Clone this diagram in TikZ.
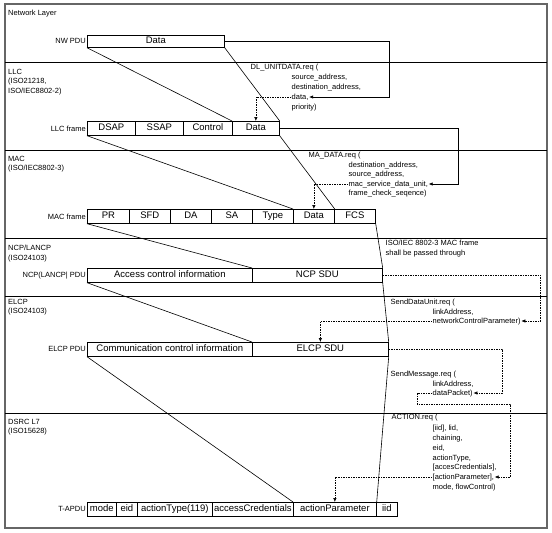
\documentclass[tikz,border=0pt]{standalone}
\usepackage{fontspec}
\setmainfont{Liberation Sans}
\usetikzlibrary{positioning,arrows.meta}

\begin{document}
\begin{tikzpicture}[
  x=1pt, y=-1pt,
  fld/.style={draw, line width=0.7pt, anchor=north west, minimum height=14pt, inner sep=0pt,
    text height=7pt, text depth=2pt, font=\fontsize{9.5}{11}\selectfont},
  rowlbl/.style={font=\fontsize{7.5}{9}\selectfont, inner sep=1pt},
  laylbl/.style={font=\fontsize{7.5}{9.5}\selectfont, align=left, anchor=north west, inner sep=0pt},
  primlbl/.style={font=\fontsize{7.5}{9}\selectfont, anchor=west, inner sep=0.5pt,
    text height=5.5pt, text depth=1.5pt},
  mapline/.style={line width=0.6pt},
  solidarr/.style={line width=0.7pt, -{Latex[length=4pt,width=3.5pt]}},
  dasharr/.style={line width=0.6pt, dash pattern=on 1.5pt off 1pt, -{Latex[length=4pt,width=3.5pt]}},
]

%% ── Colours ──────────────────────────────────────────────────────────────────
\colorlet{frameCol}{black!60}

\useasboundingbox (0,0) rectangle (552,533);

%% ── Outer frame and layer dividers ───────────────────────────────────────────
\draw[frameCol, line width=1.2pt] (5,4) rectangle (547,528);
\draw[line width=0.8pt] (5,62)  -- (547,62);
\draw[line width=0.8pt] (5,150) -- (547,150);
\draw[line width=0.8pt] (5,238) -- (547,238);
\draw[line width=0.8pt] (5,296) -- (547,296);
\draw[line width=0.8pt] (5,413) -- (547,413);

%% ── Layer names ──────────────────────────────────────────────────────────────
\node[laylbl] (layNw)   at (8,10)  {Network Layer};
\node[laylbl] (layLlc)  at (8,69)  {LLC\\(ISO21218,\\ISO/IEC8802-2)};
\node[laylbl] (layMac)  at (8,156) {MAC\\(ISO/IEC8802-3)};
\node[laylbl] (layNcp)  at (8,245) {NCP/LANCP\\(ISO24103)};
\node[laylbl] (layElcp) at (8,299) {ELCP\\(ISO24103)};
\node[laylbl] (layDsrc) at (8,419) {DSRC L7\\(ISO15628)};

%% ── NW PDU ───────────────────────────────────────────────────────────────────
\node[fld, minimum width=137pt, minimum height=12pt] (nwData) at (87,35) {Data};
\node[rowlbl, left=0pt of nwData] (nwLbl) {NW PDU};

%% ── LLC frame ────────────────────────────────────────────────────────────────
\node[fld, minimum width=48pt] (llcDsap) at (87,121)  {DSAP};
\node[fld, minimum width=48pt] (llcSsap) at (135,121) {SSAP};
\node[fld, minimum width=49pt] (llcCtrl) at (183,121) {Control};
\node[fld, minimum width=47pt] (llcData) at (232,121) {Data};
\node[rowlbl, left=0pt of llcDsap] (llcLbl) {LLC frame};

%% ── MAC frame ────────────────────────────────────────────────────────────────
\node[fld, minimum width=42pt] (macPr)   at (87,209)  {PR};
\node[fld, minimum width=41pt] (macSfd)  at (129,209) {SFD};
\node[fld, minimum width=41pt] (macDa)   at (170,209) {DA};
\node[fld, minimum width=41pt] (macSa)   at (211,209) {SA};
\node[fld, minimum width=41pt] (macType) at (252,209) {Type};
\node[fld, minimum width=41pt] (macData) at (293,209) {Data};
\node[fld, minimum width=41pt] (macFcs)  at (334,209) {FCS};
\node[rowlbl, left=0pt of macPr] (macLbl) {MAC frame};

%% ── NCP PDU ──────────────────────────────────────────────────────────────────
\node[fld, minimum width=165pt] (ncpAci) at (87,268)  {Access control information};
\node[fld, minimum width=130pt] (ncpSdu) at (252,268) {NCP SDU};
\node[rowlbl, left=0pt of ncpAci] (ncpLbl) {NCP(LANCP| PDU};

%% ── ELCP PDU ─────────────────────────────────────────────────────────────────
\node[fld, minimum width=165pt] (elcpCci) at (87,342)  {Communication control information};
\node[fld, minimum width=136pt] (elcpSdu) at (252,342) {ELCP SDU};
\node[rowlbl, left=0pt of elcpCci] (elcpLbl) {ELCP PDU};

%% ── T-APDU ───────────────────────────────────────────────────────────────────
\node[fld, minimum width=29pt] (tapMode)  at (87,502)  {mode};
\node[fld, minimum width=21pt] (tapEid)   at (116,502) {eid};
\node[fld, minimum width=75pt] (tapType)  at (137,502) {actionType(119)};
\node[fld, minimum width=81pt] (tapCred)  at (212,502) {accessCredentials};
\node[fld, minimum width=83pt] (tapParam) at (293,502) {actionParameter};
\node[fld, minimum width=21pt] (tapIid)   at (376,502) {iid};
\node[rowlbl, left=0pt of tapMode] (tapLbl) {T-APDU};

%% ── Service primitives ───────────────────────────────────────────────────────
\node[primlbl] (dlReq)  at (250,67)  {DL\_UNITDATA.req (};
\node[primlbl] (dlSrc)  at (291,77)  {source\_address,};
\node[primlbl] (dlDst)  at (291,87)  {destination\_address,};
\node[primlbl] (dlData) at (291,97)  {data,};
\node[primlbl] (dlPrio) at (291,107) {priority)};

\node[primlbl] (maReq) at (308,155) {MA\_DATA.req (};
\node[primlbl] (maDst) at (348,165) {destination\_address,};
\node[primlbl] (maSrc) at (348,174) {source\_address,};
\node[primlbl] (maSdu) at (348,184) {mac\_service\_data\_unit,};
\node[primlbl] (maFcs) at (348,193) {frame\_check\_seqence)};

\node[primlbl] (passNote1) at (385,243) {ISO/IEC 8802-3 MAC frame};
\node[primlbl] (passNote2) at (385,253) {shall be passed through};

\node[primlbl] (sduReq)  at (390,302) {SendDataUnit.req (};
\node[primlbl] (sduLink) at (432,312) {linkAddress,};
\node[primlbl] (sduNcp)  at (432,321) {networkControlParameter)};

\node[primlbl] (smReq)    at (390,374) {SendMessage.req (};
\node[primlbl] (smLink)   at (432,384) {linkAddress,};
\node[primlbl] (smPacket) at (432,393) {dataPacket)};

\node[primlbl] (acReq)   at (391,417) {ACTION.req (};
\node[primlbl] (acIid)   at (432,428) {[iid], lid,};
\node[primlbl] (acChain) at (432,438) {chaining,};
\node[primlbl] (acEid)   at (432,448) {eid,};
\node[primlbl] (acType)  at (432,458) {actionType,};
\node[primlbl] (acCred)  at (432,467) {[accesCredentials],};
\node[primlbl] (acParam) at (432,477) {[actionParameter],};
\node[primlbl] (acMode)  at (432,487) {mode, flowControl)};

%% ── Encapsulation lines ──────────────────────────────────────────────────────
\draw[mapline] (nwData.south west) -- (llcData.north west);
\draw[mapline] (nwData.south east) -- (llcData.north east);
\draw[mapline] (llcDsap.south west) -- (macData.north west);
\draw[mapline] (llcData.south east) -- (macData.north east);
\draw[mapline] (macPr.south west) -- (ncpSdu.north west);
\draw[mapline] (macFcs.south east) -- (ncpSdu.north east);
\draw[mapline] (ncpAci.south west) -- (elcpSdu.north west);
\draw[mapline] (ncpSdu.south east) -- (elcpSdu.north east);
\draw[mapline] (elcpCci.south west) -- (tapParam.north west);
\draw[mapline] (elcpSdu.south east) -- (tapParam.north east);

%% ── Primitive parameter flow ─────────────────────────────────────────────────
\draw[solidarr] (nwData.east) -- ++(165,0) |- (dlData.east);
\draw[dasharr]  (dlData.west) -| (llcData.north);
\draw[solidarr] (llcData.east) -- ++(179,0) |- (maSdu.east);
\draw[dasharr]  (maSdu.west) -| (macData.north);
\draw[dasharr]  (ncpSdu.east) -- ++(158,0) |- (sduNcp.east);
\draw[dasharr]  (sduNcp.west) -| (elcpSdu.north);
\draw[dasharr]  (elcpSdu.east) -- ++(114,0) |- (smPacket.east);
\draw[dasharr]  (smPacket.west) -- ++(-15,0) -- ++(0,11) -- ++(93,0) |- (acParam.east);
\draw[dasharr]  (acParam.west) -| (tapParam.north);

\end{tikzpicture}
\end{document}
